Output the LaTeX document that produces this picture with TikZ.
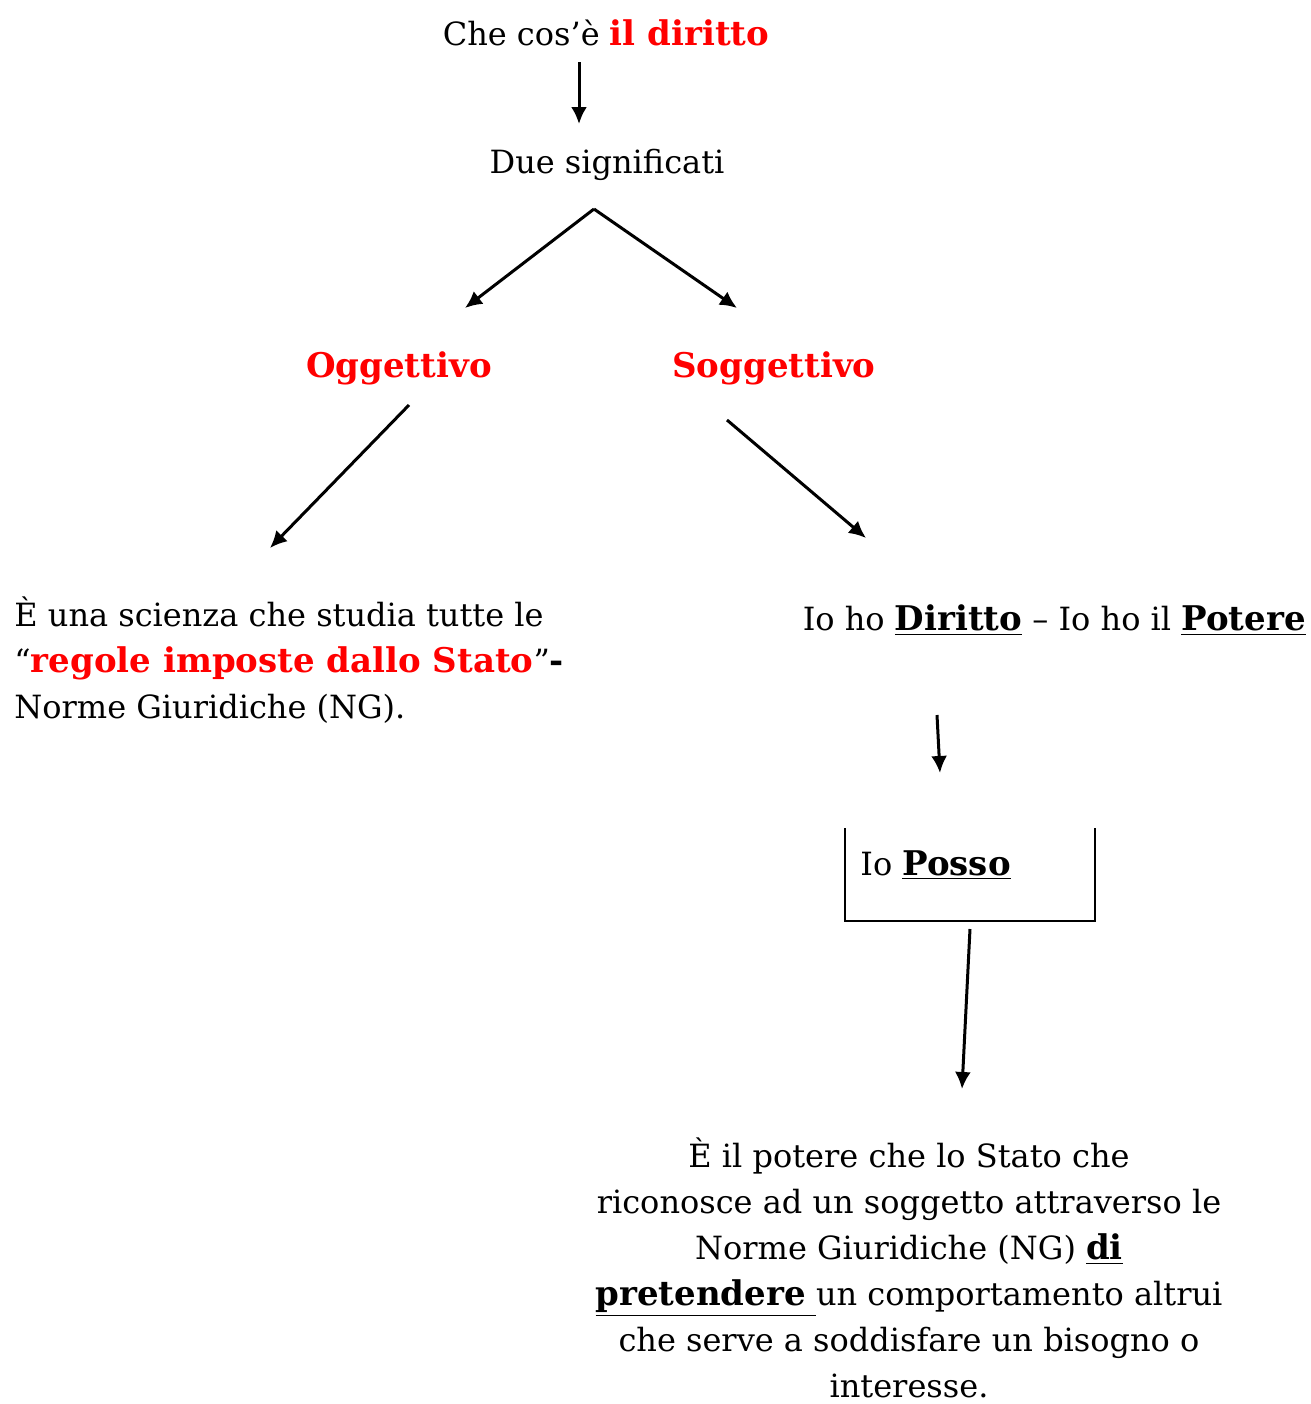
\documentclass[tikz,border=0pt]{standalone}
\usepackage{fontspec}
\setmainfont{DejaVu Serif}
\usetikzlibrary{calc}
\usetikzlibrary{arrows.meta}
\newcommand{\bword}[1]{{\fontsize{17}{23}\selectfont\bfseries #1}}

\begin{document}
\begin{tikzpicture}[
		x=0.5pt, y=-0.5pt,
		link/.style={line width=1.5pt,-{Latex[length=8.5pt, width=8pt]}},
		plain/.style={inner sep=0pt,font=\fontsize{16}{23}\selectfont},
		keyword/.style={plain,text=red,font=\fontsize{17}{23}\selectfont\bfseries},
	]
	\useasboundingbox (0,0) rectangle (1311,1404);
	\node[plain] (title) at (606,33) {Che cos’è \textcolor{red}{\bword{il diritto}}};
	\node[plain] (due) at (607,165) {Due significati};
	\node[keyword] (ogg) at (399,368) {Oggettivo};
	\node[keyword] (sogg) at (774,368) {Soggettivo};
	\node[plain,align=left,anchor=west] (scienza) at (14,660)
		{È una scienza che studia tutte le\\
		“\textcolor{red}{\bword{regole imposte dallo Stato}}”\bword{-}\\
		Norme Giuridiche (NG).};
	\node[plain,anchor=east] (diritto) at (1306,620)
		{Io ho \underline{\bword{Diritto}} – Io ho il \underline{\bword{Potere}}};
	\node[plain,anchor=west] (posso) at (860,865) {Io \underline{\bword{Posso}}};
	\node[plain,align=center] (potere) at (909,1268)
		{È il potere che lo Stato che\\
		riconosce ad un soggetto attraverso le\\
		Norme Giuridiche (NG) \underline{\bword{di}}\\
		\underline{\bword{pretendere}\ }un comportamento altrui\\
		che serve a soddisfare un bisogno o\\
		interesse.};
	% box round Io Posso, open on top
	\draw[line width=0.6pt] (845,828) -- (845,921) -- (1095,921) -- (1095,828);
	% connectors
	\coordinate (t1) at (579,62);
	\coordinate (t2) at (579,124);
	\coordinate (fork) at (594,209);
	\coordinate (oggIn) at (465,308);
	\coordinate (soggIn) at (737,308);
	\coordinate (oggOut) at (409,405);
	\coordinate (scienzaIn) at (270,548);
	\coordinate (soggOut) at (727,420);
	\coordinate (dirittoIn) at (866,538);
	\coordinate (d1) at (937,715);
	\coordinate (d2) at (940,773);
	\coordinate (p1) at (970,929);
	\coordinate (p2) at (962,1089);
	\draw[link] (t1) -- (t2);
	\draw[link] (fork) -- (oggIn);
	\draw[link] (fork) -- (soggIn);
	\draw[link] (oggOut) -- (scienzaIn);
	\draw[link] (soggOut) -- (dirittoIn);
	\draw[link] (d1) -- (d2);
	\draw[link] (p1) -- (p2);
\end{tikzpicture}
\end{document}
